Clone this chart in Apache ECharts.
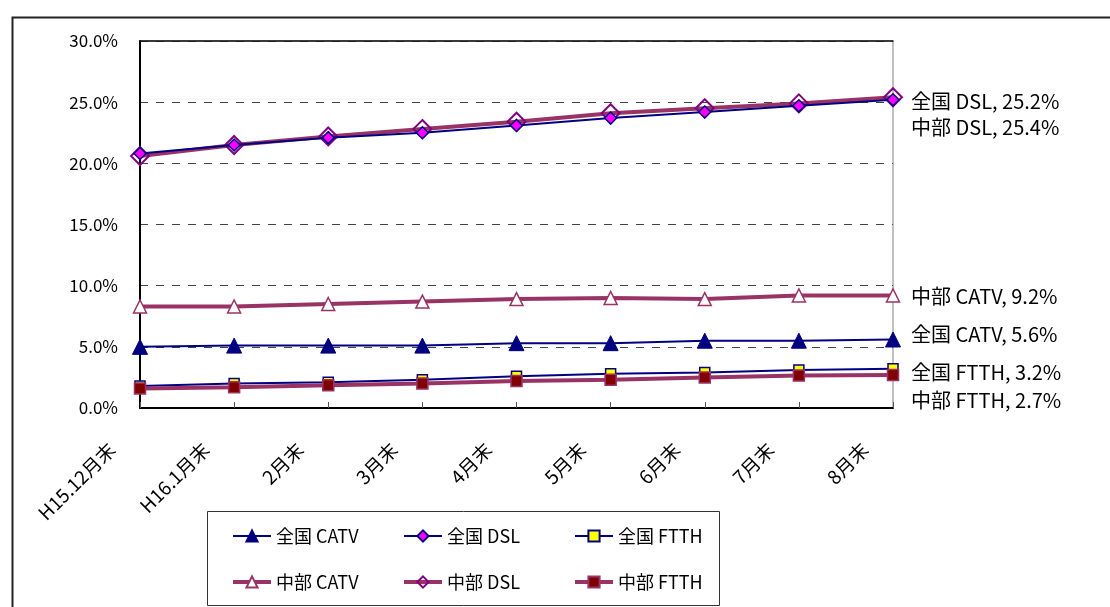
<!DOCTYPE html>
<html>
<head>
<meta charset="utf-8">
<script src="https://cdn.jsdelivr.net/npm/echarts@6/dist/echarts.min.js"></script>
<style>
  html, body { margin: 0; padding: 0; background: #fff; }
  #chart { width: 1110px; height: 607px; }
</style>
</head>
<body>
<div id="chart"></div>
<script>
// categories (month ends)
const months = ["H15.12月末", "H16.1月末", "2月末", "3月末", "4月末", "5月末", "6月末", "7月末", "8月末"];

// percentages
const zenkokuCATV = [5.0, 5.1, 5.1, 5.1, 5.3, 5.3, 5.5, 5.5, 5.6];
const zenkokuDSL = [20.8, 21.5, 22.1, 22.5, 23.1, 23.7, 24.2, 24.7, 25.2];
const zenkokuFTTH = [1.8, 2.0, 2.1, 2.3, 2.6, 2.8, 2.9, 3.1, 3.2];
const chubuCATV = [8.3, 8.3, 8.5, 8.7, 8.9, 9.0, 8.9, 9.2, 9.2];
const chubuDSL = [20.6, 21.5, 22.2, 22.8, 23.4, 24.1, 24.5, 24.9, 25.4];
const chubuFTTH = [1.6, 1.7, 1.85, 2.0, 2.2, 2.3, 2.5, 2.65, 2.7];

const FONT = '"Noto Sans CJK JP", "Noto Sans", sans-serif';
const NAVY = "#000080";
const PLUM = "#993366";

const chart = echarts.init(document.getElementById("chart"));

// label on the last point, pushed up/down so they don't overlap
function endLabel(dy) {
  return {
    show: true,
    distance: 18,
    offset: [0, dy],
    color: "#000",
    fontFamily: FONT,
    fontSize: 20,
    formatter: (p) => {
      const v = Array.isArray(p.value) ? p.value[p.value.length - 1] : p.value;
      return p.seriesName + ", " + Number(v).toFixed(1) + "%";
    },
  };
}

function mkSeries(name, data, opts) {
  return Object.assign({
    name: name,
    type: "line",
    data: data,
    animation: false,
    endLabel: endLabel(opts.dy),
  }, opts.style);
}

const series = [
  mkSeries("全国 CATV", zenkokuCATV, {
    dy: -5,
    style: {
      symbol: "triangle", symbolSize: 15,
      lineStyle: { color: NAVY, width: 2 },
      itemStyle: { color: NAVY, borderColor: NAVY, borderWidth: 1 },
      z: 5,
    },
  }),
  mkSeries("全国 DSL", zenkokuDSL, {
    dy: 2,
    style: {
      symbol: "diamond", symbolSize: 12,
      lineStyle: { color: NAVY, width: 2 },
      itemStyle: { color: "#ff00ff", borderColor: NAVY, borderWidth: 1.5 },
      z: 6,
    },
  }),
  mkSeries("全国 FTTH", zenkokuFTTH, {
    dy: 4,
    style: {
      symbol: "rect", symbolSize: 10,
      lineStyle: { color: NAVY, width: 2 },
      itemStyle: { color: "#ffff00", borderColor: NAVY, borderWidth: 1.5 },
      z: 3,
    },
  }),
  mkSeries("中部 CATV", chubuCATV, {
    dy: 1,
    style: {
      symbol: "triangle", symbolSize: 13,
      lineStyle: { color: PLUM, width: 4 },
      itemStyle: { color: "#fff", borderColor: PLUM, borderWidth: 1.5 },
      z: 4,
    },
  }),
  mkSeries("中部 DSL", chubuDSL, {
    dy: 30,
    style: {
      symbol: "diamond", symbolSize: 18,
      lineStyle: { color: PLUM, width: 4 },
      itemStyle: { color: "rgba(255,255,255,0)", borderColor: "#800080", borderWidth: 2 },
      z: 4,
    },
  }),
  mkSeries("中部 FTTH", chubuFTTH, {
    dy: 25,
    style: {
      symbol: "rect", symbolSize: 11,
      lineStyle: { color: PLUM, width: 4 },
      itemStyle: { color: "#800000", borderColor: PLUM, borderWidth: 1.5 },
      z: 4,
    },
  }),
];

function legendCol(left, names) {
  return {
    orient: "vertical",
    left: left,
    top: 527,
    padding: 0,
    itemGap: 28,
    itemWidth: 38,
    itemHeight: 14,
    data: [
      { name: names[0], lineStyle: { width: 2 } },
      { name: names[1], lineStyle: { width: 4 } },
    ],
    selectedMode: false,
    textStyle: { fontFamily: FONT, fontSize: 18, color: "#000" },
  };
}

const option = {
  backgroundColor: "#fff",
  animation: false,
  textStyle: { fontFamily: FONT },
  grid: {
    left: 140, top: 41, width: 753, height: 367,
    show: true, borderColor: "#808080", borderWidth: 1,
  },
  legend: [
    legendCol(231, ["全国 CATV", "中部 CATV"]),
    legendCol(402, ["全国 DSL", "中部 DSL"]),
    legendCol(573, ["全国 FTTH", "中部 FTTH"]),
  ],
  graphic: [
    // outer chart frame (runs off the right/bottom edge)
    { type: "rect", left: 10, top: 15, shape: { width: 1200, height: 700 },
      style: { fill: "none", stroke: "#222", lineWidth: 2 }, silent: true, z: -1 },
    // legend frame
    { type: "rect", left: 205, top: 509, shape: { width: 512, height: 94 },
      style: { fill: "none", stroke: "#333", lineWidth: 1 }, silent: true },
  ],
  xAxis: [
    {
      type: "category",
      data: months,
      boundaryGap: false,
      axisLine: { lineStyle: { color: "#000", width: 2 } },
      axisTick: { inside: true, length: 6, lineStyle: { color: "#555" } },
      axisLabel: {
        rotate: 45, margin: 10, color: "#000",
        fontFamily: FONT, fontSize: 19, interval: 0,
        padding: [0, 40, 0, 0],
      },
      splitLine: { show: false },
    },
    {
      type: "category",
      data: months,
      boundaryGap: false,
      position: "top",
      axisLine: { lineStyle: { color: "#111", width: 1.5 } },
      axisTick: { show: false },
      axisLabel: { show: false },
    },
  ],
  yAxis: {
    type: "value",
    min: 0, max: 30, interval: 5,
    axisLine: { show: true, lineStyle: { color: "#000", width: 2 } },
    axisTick: { show: false },
    axisLabel: {
      margin: 22, color: "#000", fontFamily: FONT, fontSize: 17,
      formatter: (v) => v.toFixed(1) + "%",
    },
    splitLine: { lineStyle: { color: "#444", type: [8, 8], width: 1 } },
  },
  series: series,
};

chart.setOption(option);
</script>
</body>
</html>
